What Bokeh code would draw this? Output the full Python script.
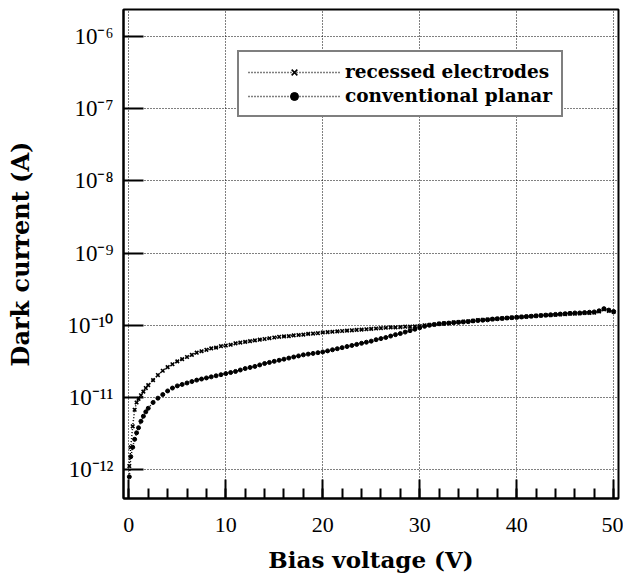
from bokeh.plotting import figure
from bokeh.models import Range1d, FixedTicker, Legend, LegendItem
from bokeh.embed import file_html
from bokeh.resources import INLINE

# ---- data (currents stored as log10 of amperes) ----
bias_voltage_V = [
    0.05, 0.2, 0.4, 0.6, 0.8, 1.0, 1.25, 1.5, 1.75, 2.0,
    2.5, 3.0, 3.5, 4.0, 4.5, 5.0, 5.5, 6.0, 6.5, 7.0, 7.5, 8.0, 8.5, 9.0, 9.5, 10.0,
    10.5, 11.0, 11.5, 12.0, 12.5, 13.0, 13.5, 14.0, 14.5, 15.0, 15.5, 16.0, 16.5, 17.0,
    17.5, 18.0, 18.5, 19.0, 19.5, 20.0,
    20.5, 21.0, 21.5, 22.0, 22.5, 23.0, 23.5, 24.0, 24.5, 25.0,
    25.5, 26.0, 26.5, 27.0, 27.5, 28.0, 28.5, 29.0, 29.5, 30.0,
    30.5, 31.0, 31.5, 32.0, 32.5, 33.0, 33.5, 34.0, 34.5, 35.0,
    35.5, 36.0, 36.5, 37.0, 37.5, 38.0, 38.5, 39.0, 39.5, 40.0,
    40.5, 41.0, 41.5, 42.0, 42.5, 43.0, 43.5, 44.0, 44.5, 45.0,
    45.5, 46.0, 46.5, 47.0, 47.5, 48.0, 48.5, 49.0, 49.5, 50.0,
]

recessed_log10_A = [
    -11.95, -11.69, -11.40, -11.17, -11.07, -11.02, -10.97, -10.92, -10.87, -10.83,
    -10.76, -10.69, -10.63, -10.58, -10.54, -10.50, -10.47, -10.44, -10.41, -10.38,
    -10.36, -10.34, -10.32, -10.31, -10.29, -10.28,
    -10.27, -10.25, -10.24, -10.23, -10.22, -10.21, -10.20, -10.19, -10.18, -10.17,
    -10.16, -10.155, -10.15, -10.14, -10.135, -10.13, -10.12, -10.115, -10.11, -10.10,
    -10.095, -10.09, -10.085, -10.08, -10.075, -10.07, -10.065, -10.06, -10.055, -10.05,
    -10.045, -10.04, -10.035, -10.03, -10.03, -10.025, -10.02, -10.02, -10.015, -10.01,
    -10.0, -9.995, -9.99, -9.98, -9.975, -9.97, -9.96, -9.955, -9.95, -9.945,
    -9.94, -9.93, -9.925, -9.92, -9.915, -9.91, -9.905, -9.90, -9.895, -9.89,
    -9.885, -9.88, -9.875, -9.87, -9.865, -9.86, -9.86, -9.855, -9.85, -9.845,
    -9.84, -9.84, -9.835, -9.83, -9.83, -9.825, -9.81, -9.78, -9.80, -9.815,
]

planar_log10_A = [
    -12.10, -11.82, -11.69, -11.58, -11.49, -11.42, -11.33, -11.26, -11.20, -11.15,
    -11.07, -11.01, -10.96, -10.91, -10.87, -10.84, -10.82, -10.80, -10.78, -10.76,
    -10.745, -10.73, -10.715, -10.70, -10.685, -10.67,
    -10.655, -10.64, -10.62, -10.60, -10.585, -10.57, -10.55, -10.53, -10.515, -10.50,
    -10.485, -10.47, -10.455, -10.44, -10.425, -10.41, -10.40, -10.39, -10.38, -10.37,
    -10.355, -10.34, -10.325, -10.31, -10.295, -10.28, -10.265, -10.25, -10.235, -10.22,
    -10.20, -10.185, -10.17, -10.15, -10.13, -10.115, -10.095, -10.075, -10.055, -10.035,
    -10.015, -10.0, -9.99, -9.98, -9.975, -9.97, -9.965, -9.96, -9.955, -9.95,
    -9.94, -9.935, -9.93, -9.925, -9.915, -9.91, -9.905, -9.90, -9.895, -9.89,
    -9.885, -9.88, -9.875, -9.87, -9.865, -9.86, -9.855, -9.85, -9.845, -9.84,
    -9.835, -9.83, -9.83, -9.825, -9.82, -9.815, -9.80, -9.77, -9.79, -9.81,
]

series_labels = ["recessed electrodes", "conventional planar"]
x_major_ticks = [0, 10, 20, 30, 40, 50]
x_minor_ticks = [0, 2, 4, 6, 8, 10, 12, 14, 16, 18, 20, 22, 24, 26, 28, 30,
                 32, 34, 36, 38, 40, 42, 44, 46, 48, 50]
y_exponents = [-12, -11, -10, -9, -8, -7, -6]
y_tick_labels = ["10\u207b\u00b9\u00b2", "10\u207b\u00b9\u00b9", "10\u207b\u00b9\u2070",
                 "10\u207b\u2079", "10\u207b\u2078", "10\u207b\u2077", "10\u207b\u2076"]

recessed_A = [10 ** v for v in recessed_log10_A]
planar_A = [10 ** v for v in planar_log10_A]
y_ticks = [10.0 ** e for e in y_exponents]

SERIF = "Liberation Serif"
WIDE_SERIF = "DejaVu Serif"

p = figure(
    width=623, height=575,
    x_axis_type="linear", y_axis_type="log",
    x_range=Range1d(-0.55, 50.5),
    y_range=Range1d(10 ** -12.40, 10 ** -5.626),
    output_backend="svg", toolbar_location=None,
    min_border_left=123, min_border_right=5, min_border_top=9, min_border_bottom=77,
    background_fill_color="white", border_fill_color="white",
)
p.outline_line_color = "black"
p.outline_line_width = 2

# grid
p.xgrid.ticker = FixedTicker(ticks=x_major_ticks)
p.ygrid.ticker = FixedTicker(ticks=y_ticks)
for g in (p.xgrid, p.ygrid):
    g.grid_line_color = "black"
    g.grid_line_dash = "1 2"
    g.grid_line_width = 1
    g.grid_line_alpha = 1.0

# x axis
xa = p.xaxis[0]
xa.ticker = FixedTicker(ticks=x_major_ticks, minor_ticks=x_minor_ticks)
xa.axis_label = "Bias voltage (V)"
xa.axis_line_width = 2
xa.major_tick_in = 19
xa.major_tick_out = 0
xa.minor_tick_in = 10
xa.minor_tick_out = 0
xa.major_tick_line_width = 2
xa.minor_tick_line_width = 2
xa.major_label_standoff = 19
xa.major_label_text_font = SERIF
xa.major_label_text_font_size = "22px"
xa.major_label_text_color = "black"
xa.axis_label_standoff = 11
xa.axis_label_text_font = WIDE_SERIF
xa.axis_label_text_font_style = "bold"
xa.axis_label_text_font_size = "23px"
xa.axis_label_text_color = "black"

# y axis
ya = p.yaxis[0]
ya.ticker = FixedTicker(ticks=y_ticks)
ya.major_label_overrides = {t: lab for t, lab in zip(y_ticks, y_tick_labels)}
ya.axis_label = "Dark current (A)"
ya.axis_line_width = 2
ya.major_tick_in = 20
ya.major_tick_out = 0
ya.major_tick_line_width = 2
ya.minor_tick_line_color = None
ya.major_label_standoff = 10
ya.major_label_text_font = SERIF
ya.major_label_text_font_size = "23px"
ya.major_label_text_color = "black"
ya.axis_label_standoff = 30
ya.axis_label_text_font = WIDE_SERIF
ya.axis_label_text_font_style = "bold"
ya.axis_label_text_font_size = "24px"
ya.axis_label_text_color = "black"

# series
r_line = p.line(bias_voltage_V, recessed_A, line_color="black", line_width=1.5, line_dash="1 2")
r_mark = p.scatter(bias_voltage_V, recessed_A, marker="x", size=5, line_color="black", line_width=1.6)
c_line = p.line(bias_voltage_V, planar_A, line_color="black", line_width=1.5, line_dash="1 2")
c_mark = p.scatter(bias_voltage_V, planar_A, marker="circle", size=4, line_color="black",
                   fill_color="black")

legend = Legend(
    items=[LegendItem(label=series_labels[0], renderers=[r_line, r_mark]),
           LegendItem(label=series_labels[1], renderers=[c_line, c_mark])],
    location=(114, 381),
    border_line_color="black", border_line_width=2,
    background_fill_color="white", background_fill_alpha=1.0,
    label_text_font=WIDE_SERIF, label_text_font_style="bold", label_text_font_size="18.5px",
    label_text_color="black",
    glyph_width=92, glyph_height=20, label_height=20, label_standoff=5,
    spacing=3, padding=9, margin=0,
)
p.add_layout(legend, "center")

open("out.html", "w").write(file_html(p, INLINE))
